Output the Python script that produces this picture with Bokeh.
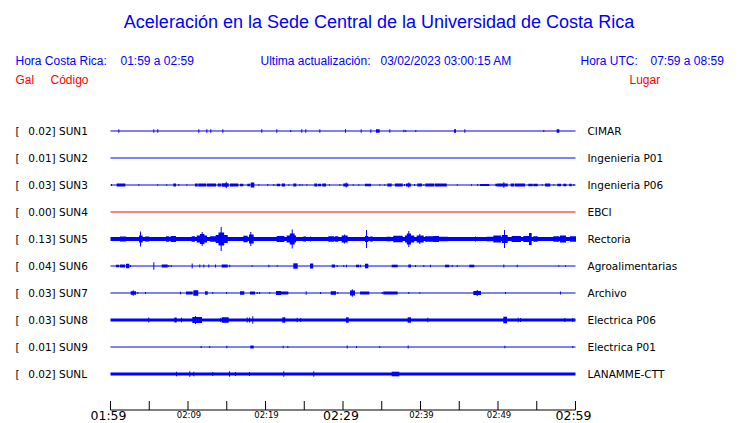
from bokeh.plotting import figure
from bokeh.models import Range1d
from bokeh.core.properties import value
from bokeh.embed import file_html
from bokeh.resources import INLINE

# ---------------- data ----------------
TITLE = "Aceleración en la Sede Central de la Universidad de Costa Rica"
HORA_CR = "01:59 a 02:59"
ACTUALIZACION = "03/02/2023 03:00:15 AM"
HORA_UTC = "07:59 a 08:59"

CODES = ["SUN1", "SUN2", "SUN3", "SUN4", "SUN5", "SUN6", "SUN7", "SUN8", "SUN9", "SUNL"]
PLACES = ["CIMAR", "Ingenieria P01", "Ingenieria P06", "EBCI", "Rectoria",
          "Agroalimentarias", "Archivo", "Electrica P06", "Electrica P01", "LANAMME-CTT"]
PEAK_GAL = ["0.02", "0.01", "0.03", "0.00", "0.13", "0.04", "0.03", "0.03", "0.01", "0.02"]
TRACE_COLORS = ["#0000ff", "#0000ff", "#0000ff", "#ff0000", "#0000ff",
                "#0000ff", "#0000ff", "#0000ff", "#0000ff", "#0000ff"]
# background (noise) half-amplitude of each trace, display units
NOISE = [0.5, 0.5, 0.5, 0.5, 2.0, 0.5, 0.5, 1.5, 0.5, 1.5]

# time axis: minutes after 01:59
TICK_MIN = [0, 5, 10, 15, 20, 25, 30, 35, 40, 45, 50, 55, 60]
MAJOR_MIN = [0, 30, 60]
MAJOR_LBL = ["01:59", "02:29", "02:59"]
MINOR_MIN = [10, 20, 40, 50]
MINOR_LBL = ["02:09", "02:19", "02:39", "02:49"]

# events: (start minute, end minute, half amplitude in display units)
SUN1_EV = [(1.07, 1.07, 1.7), (5.59, 5.59, 1.7), (6.10, 6.10, 1.7), (11.39, 11.39, 1.7),
           (12.43, 12.43, 1.7), (12.94, 12.94, 1.7), (14.49, 14.49, 1.7), (19.52, 19.52, 1.7),
           (21.46, 21.46, 1.7), (23.26, 23.26, 1.0), (24.68, 24.68, 1.7), (25.20, 25.20, 1.7),
           (27.01, 27.01, 1.7), (30.32, 30.32, 1.7), (32.35, 32.35, 1.7), (33.59, 33.59, 1.7),
           (34.32, 34.67, 1.7), (36.04, 36.04, 1.7), (37.85, 37.85, 1.2), (38.10, 38.10, 1.0),
           (39.39, 39.39, 1.0), (44.39, 44.52, 1.7), (45.72, 45.72, 1.7), (55.91, 55.91, 1.0),
           (57.64, 57.85, 1.7)]
SUN2_EV = []
SUN3_EV = [(0.13, 0.13, 1.0), (0.86, 1.85, 1.5), (3.65, 3.65, 0.8), (6.10, 6.10, 0.8),
           (7.26, 7.26, 0.8), (8.17, 8.39, 1.5), (8.81, 8.81, 1.0), (9.85, 9.85, 0.8),
           (10.97, 11.19, 1.5), (11.39, 12.26, 1.5), (12.48, 13.55, 1.5), (13.90, 14.19, 1.5),
           (14.41, 15.19, 1.8), (14.93, 14.93, 3.3), (15.48, 16.43, 1.5), (16.77, 17.07, 1.2),
           (17.72, 17.94, 1.2), (18.15, 18.49, 2.5), (19.14, 19.14, 0.8), (20.30, 20.30, 1.0),
           (21.07, 21.07, 1.0), (21.51, 21.81, 1.2), (22.15, 22.45, 1.5), (23.01, 23.01, 0.8),
           (23.65, 23.91, 1.5), (24.43, 24.43, 1.0), (24.74, 24.74, 0.8), (25.33, 25.33, 0.8),
           (26.36, 26.58, 1.5), (26.80, 27.10, 1.2), (27.39, 27.74, 1.5), (28.26, 28.26, 0.8),
           (29.59, 29.59, 0.8), (30.10, 30.62, 1.5), (30.41, 30.41, 2.5), (31.32, 31.32, 0.8),
           (32.04, 32.04, 0.8), (32.90, 33.55, 1.3), (34.75, 34.75, 0.8), (35.39, 35.39, 0.8),
           (35.78, 36.22, 1.5), (36.77, 37.64, 1.5), (37.94, 37.94, 1.0), (38.19, 38.71, 1.5),
           (38.49, 38.49, 2.5), (39.23, 39.23, 1.0), (39.65, 40.13, 1.5), (40.43, 40.43, 0.8),
           (40.68, 41.72, 1.5), (41.94, 43.32, 1.5), (44.74, 44.74, 0.8), (46.58, 46.58, 0.8),
           (47.39, 47.39, 1.0), (47.74, 48.81, 1.0), (49.72, 49.90, 1.2), (49.97, 51.19, 1.5),
           (50.75, 50.75, 2.7), (51.70, 52.04, 1.5), (52.26, 53.42, 1.5), (53.97, 54.41, 1.3),
           (54.62, 55.06, 1.2), (55.70, 55.70, 0.8), (56.13, 56.68, 1.5), (57.20, 57.20, 0.8),
           (57.72, 58.06, 1.2), (58.49, 58.75, 1.2), (59.26, 59.45, 1.2), (59.78, 59.78, 1.0)]
SUN4_EV = []
SUN5_EV = [(1.29, 1.94, 2.5), (3.74, 4.09, 3.5), (3.87, 3.87, 7.5), (4.52, 4.94, 2.5),
           (6.23, 6.23, 2.0), (7.23, 7.52, 2.7), (7.83, 8.39, 3.0), (10.54, 10.84, 2.7),
           (11.19, 12.39, 3.5), (11.60, 12.05, 5.0), (11.83, 11.83, 7.0), (12.90, 13.55, 2.7),
           (13.64, 15.06, 4.0), (14.00, 14.60, 6.5), (14.28, 14.28, 12.0), (17.20, 17.64, 3.3),
           (17.94, 18.41, 4.5), (18.10, 18.10, 7.0), (21.07, 21.07, 2.0), (21.51, 22.36, 3.0),
           (22.80, 23.87, 3.5), (23.20, 23.70, 5.5), (23.45, 23.45, 9.5), (24.94, 25.16, 2.5),
           (25.81, 25.81, 2.5), (28.17, 28.81, 2.7), (29.03, 29.33, 2.7), (29.90, 30.54, 3.5),
           (30.20, 30.20, 4.5), (32.90, 33.20, 3.0), (33.03, 33.03, 9.0), (33.55, 33.77, 2.5),
           (35.70, 36.13, 2.3), (36.55, 37.64, 3.3), (38.06, 39.14, 3.5), (38.30, 38.70, 5.5),
           (38.49, 38.49, 8.0), (39.57, 40.35, 3.5), (39.90, 39.90, 5.0), (40.65, 41.72, 2.7),
           (41.72, 42.36, 3.0), (42.58, 43.45, 2.3), (47.10, 47.10, 2.5), (48.61, 49.25, 2.3),
           (49.46, 50.32, 3.5), (50.54, 51.19, 4.0), (50.84, 50.84, 9.0), (51.83, 52.90, 3.0),
           (53.33, 53.97, 3.0), (54.06, 54.28, 6.0), (54.62, 55.06, 2.7), (57.20, 57.85, 2.7),
           (58.06, 58.71, 3.5), (59.35, 60.00, 2.7)]
SUN6_EV = [(0.77, 1.07, 1.3), (1.29, 1.81, 1.5), (2.06, 2.36, 2.3), (2.58, 2.58, 1.0),
           (5.59, 5.59, 3.7), (6.67, 7.32, 1.5), (7.52, 7.52, 1.0), (7.83, 7.83, 1.0),
           (10.54, 10.54, 2.5), (11.52, 11.52, 1.5), (12.04, 12.04, 1.5), (12.68, 12.68, 1.5),
           (13.55, 13.55, 1.5), (14.41, 15.06, 1.5), (15.39, 15.39, 1.2), (18.28, 18.28, 0.8),
           (20.43, 20.43, 1.2), (21.51, 21.51, 0.8), (23.65, 24.09, 2.7), (25.81, 26.10, 2.5),
           (28.61, 28.90, 1.5), (29.25, 29.25, 1.0), (30.10, 30.10, 1.0), (30.45, 30.45, 1.3),
           (31.74, 32.04, 1.3), (32.26, 32.26, 1.3), (32.90, 33.20, 2.3), (36.35, 36.99, 1.3),
           (38.49, 38.71, 1.5), (39.35, 39.35, 1.0), (40.43, 40.43, 1.0), (41.29, 41.29, 1.2),
           (43.23, 43.65, 1.3), (44.09, 44.09, 1.0), (44.74, 44.74, 1.0), (46.36, 46.88, 1.3),
           (50.75, 50.75, 1.5), (52.48, 52.48, 1.2), (57.85, 57.85, 0.8), (58.71, 58.71, 0.8)]
SUN7_EV = [(2.67, 3.23, 1.8), (2.93, 2.93, 2.8), (3.52, 3.52, 1.0), (4.52, 4.52, 1.0),
           (9.03, 9.03, 1.2), (9.81, 10.54, 1.5), (10.75, 11.26, 2.8), (12.26, 12.48, 1.8),
           (13.20, 13.20, 1.0), (14.97, 14.97, 1.0), (16.77, 17.20, 1.8), (18.06, 18.58, 1.5),
           (18.93, 18.93, 1.0), (19.23, 19.23, 1.0), (20.55, 20.55, 0.8), (21.42, 21.94, 2.0),
           (21.94, 22.88, 1.5), (25.25, 25.25, 1.8), (27.10, 27.10, 1.0), (28.48, 29.03, 1.8),
           (29.33, 29.33, 1.0), (30.97, 31.48, 2.5), (31.20, 31.20, 3.7), (32.26, 33.33, 1.5),
           (35.06, 35.06, 1.0), (35.26, 36.99, 1.5), (38.49, 38.49, 1.0), (39.91, 39.91, 0.8),
           (46.88, 47.74, 2.0), (47.32, 47.32, 3.0), (50.97, 50.97, 1.0), (58.06, 58.06, 1.5)]
SUN8_EV = [(4.94, 4.94, 2.5), (8.30, 8.48, 2.5), (9.16, 9.16, 2.3), (10.62, 11.74, 3.0),
           (10.97, 10.97, 4.0), (14.19, 14.19, 2.0), (14.41, 15.19, 2.7), (17.64, 17.64, 2.5),
           (17.94, 17.94, 2.5), (18.36, 18.36, 3.7), (22.23, 22.49, 2.7), (24.09, 24.09, 2.3),
           (24.52, 24.52, 2.0), (30.45, 30.67, 2.7), (38.41, 38.71, 2.7), (40.94, 40.94, 2.3),
           (50.75, 51.10, 3.3), (52.61, 52.61, 2.3), (52.90, 52.90, 2.0), (58.62, 58.62, 2.0),
           (59.65, 59.65, 2.0)]
SUN9_EV = [(11.70, 11.70, 1.0), (12.81, 12.81, 1.0), (15.01, 15.01, 1.3), (18.11, 18.41, 1.5),
           (22.28, 22.28, 1.3), (22.88, 22.88, 1.0), (30.54, 30.54, 1.5), (31.74, 31.74, 1.0),
           (34.75, 34.75, 1.0), (38.41, 38.41, 1.5), (50.88, 50.88, 1.3), (59.65, 59.65, 1.0)]
SUNL_EV = [(8.52, 8.52, 2.3), (10.23, 10.23, 2.7), (10.75, 10.75, 2.3), (13.20, 13.20, 2.0),
           (15.35, 15.35, 2.7), (16.13, 16.13, 2.0), (17.94, 17.94, 2.0), (22.36, 22.36, 2.7),
           (26.23, 26.23, 2.7), (36.35, 37.20, 2.3)]

EVENTS = [SUN1_EV, SUN2_EV, SUN3_EV, SUN4_EV, SUN5_EV, SUN6_EV, SUN7_EV, SUN8_EV, SUN9_EV, SUNL_EV]

# ---------------- layout helpers ----------------
W, H = 740, 423
X0 = 110                 # screen x of 01:59
PX_MIN = 7.75            # pixels per minute
ROW0 = 130.5             # screen y of first trace
ROW_PX = 27.0            # pixels between traces
BASE_FIX = 0.37          # text baseline correction, in em


def X(px):
    return (px - X0) / PX_MIN


def Y(py):
    return (py - ROW0) / ROW_PX


def TY(py, size):
    # data y for a text whose alphabetic baseline should sit at screen y = py
    return Y(py - BASE_FIX * size)


p = figure(width=W, height=H, x_range=Range1d(X(0), X(W)),
           y_range=Range1d(Y(H), Y(0)),
           output_backend="svg", toolbar_location=None,
           x_axis_type=None, y_axis_type=None, min_border=0)
p.title = None
p.grid.visible = False
p.outline_line_color = None
p.background_fill_color = "white"
p.border_fill_color = "white"

HALF_PX = 0.5 / PX_MIN
# traces
for i, ev in enumerate(EVENTS):
    left = [TICK_MIN[0]]
    right = [TICK_MIN[-1]]
    bottom = [i - NOISE[i] / ROW_PX]
    top = [i + NOISE[i] / ROW_PX]
    for (t0, t1, a) in ev:
        left.append(t0 - HALF_PX)
        right.append(t1 + HALF_PX)
        bottom.append(i - a / ROW_PX)
        top.append(i + a / ROW_PX)
    p.quad(left=left, right=right, bottom=bottom, top=top,
           fill_color=TRACE_COLORS[i], line_color=None)

# texts
HELV = value("Liberation Sans")
DEJ = value("DejaVu Sans")
BLUE = "#0000ff"
RED = "#ff0000"

p.text(x=[X(378.5)], y=[TY(28.5, 18)], text=[TITLE], text_font=HELV, text_font_size="18px",
       text_color=BLUE, text_align="center", text_baseline="alphabetic")

p.text(x=[X(15), X(120), X(260), X(380), X(580), X(650)], y=[TY(65.3, 12)] * 6,
       text=["Hora Costa Rica:", HORA_CR, "Ultima actualización:", ACTUALIZACION,
             "Hora UTC:", HORA_UTC],
       text_font=HELV, text_font_size="12px", text_color=BLUE,
       text_align="left", text_baseline="alphabetic")
p.text(x=[X(15), X(50), X(629)], y=[TY(84.3, 12)] * 3, text=["Gal", "Código", "Lugar"],
       text_font=HELV, text_font_size="12px", text_color=RED,
       text_align="left", text_baseline="alphabetic")

rows = list(range(len(CODES)))
base = [TY(ROW0 + r * ROW_PX + 3.8, 10.5) for r in rows]
p.text(x=[X(15)] * len(rows), y=base, text=["["] * len(rows), text_font=DEJ,
       text_font_size="10.5px", text_color="black", text_baseline="alphabetic")
p.text(x=[X(27.7)] * len(rows), y=base, text=[f"{g}] {c}" for g, c in zip(PEAK_GAL, CODES)],
       text_font=DEJ, text_font_size="10.5px", text_color="black", text_baseline="alphabetic")
p.text(x=[X(587)] * len(rows), y=base, text=PLACES, text_font=DEJ,
       text_font_size="10.5px", text_color="black", text_baseline="alphabetic")

# time axis
AX_Y = 409.5
p.segment(x0=[TICK_MIN[0]], x1=[TICK_MIN[-1]], y0=[Y(AX_Y)], y1=[Y(AX_Y)],
          line_color="black", line_width=1)
p.segment(x0=TICK_MIN, x1=TICK_MIN, y0=[Y(AX_Y)] * len(TICK_MIN),
          y1=[Y(AX_Y - 9)] * len(TICK_MIN), line_color="black", line_width=1)
p.text(x=MAJOR_MIN, y=[TY(419.5, 12.5)] * len(MAJOR_MIN), text=MAJOR_LBL, text_font=DEJ,
       text_font_size="12.5px", text_color="black", text_align="center",
       text_baseline="alphabetic", x_offset=-2)
p.text(x=MINOR_MIN, y=[TY(417.5, 8.5)] * len(MINOR_MIN), text=MINOR_LBL, text_font=DEJ,
       text_font_size="8.5px", text_color="black", text_align="center",
       text_baseline="alphabetic", x_offset=1)

open("out.html", "w").write(file_html(p, INLINE))
